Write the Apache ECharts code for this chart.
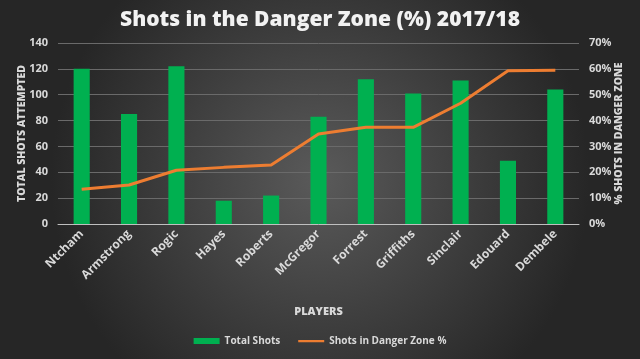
<!DOCTYPE html>
<html><head><meta charset="utf-8">
<script src="https://cdn.jsdelivr.net/npm/echarts@6/dist/echarts.min.js"></script>
<style>html,body{margin:0;padding:0;background:#333;}#c{width:640px;height:359px;}</style>
</head><body><div id="c"></div>
<script>
const players = ['Ntcham','Armstrong','Rogic','Hayes','Roberts','McGregor','Forrest','Griffiths','Sinclair','Edouard','Dembele'];
const totalShots = [120, 85, 122, 18, 22, 83, 112, 101, 111, 49, 104];
const dangerPct = [13.4, 15.1, 20.8, 21.9, 22.8, 34.8, 37.4, 37.4, 46.7, 59.3, 59.5];

const font = '"Open Sans", "DejaVu Sans", sans-serif';
const txt = '#d9d9d9';
const chart = echarts.init(document.getElementById('c'));
chart.setOption({
  backgroundColor: {type:'radial', x:0.5, y:0.5, r:0.75, colorStops:[{offset:0,color:'#5a5a5a'},{offset:1,color:'#262626'}]},
  textStyle:{fontFamily:font},
  title:{text:'Shots in the Danger Zone (%) 2017/18', left:'center', top:5,
    textStyle:{color:'#f2f2f2', fontSize:21, fontWeight:800, fontFamily:font}},
  grid:{left:58, right:61, top:43, bottom:135},
  legend:{bottom:8, left:'center', itemGap:18, itemWidth:26, itemHeight:6,
    textStyle:{color:txt, fontSize:10, fontWeight:'bold', fontFamily:font},
    data:[{name:'Total Shots', icon:'rect'},
          {name:'Shots in Danger Zone %', icon:'path://M0,0L0.01,0L0.01,0.01L0,0.01ZM0,2L26,2L26,4.2L0,4.2ZM25.99,5.99L26,5.99L26,6L25.99,6Z'}]},
  xAxis:{type:'category', data:players, name:'PLAYERS', nameLocation:'middle', nameGap:82, nameMoveOverlap:false,
    nameTextStyle:{color:txt, fontSize:11, fontWeight:900},
    axisLine:{lineStyle:{color:'#bfbfbf', width:1}}, axisTick:{show:false},
    axisLabel:{rotate:45, color:txt, fontSize:12, fontWeight:'bold', margin:8, interval:0}},
  yAxis:[
    {type:'value', min:0, max:140, interval:20, name:'TOTAL SHOTS ATTEMPTED', nameLocation:'middle', nameGap:30, nameRotate:90, nameMoveOverlap:false,
     nameTextStyle:{color:txt, fontSize:10.5, fontWeight:900},
     axisLabel:{color:txt, fontSize:11, fontWeight:'bold', margin:10},
     splitLine:{lineStyle:{color:'#6a6a6a', width:1}}, axisLine:{show:false}, axisTick:{show:false}},
    {type:'value', min:0, max:70, interval:10, name:'% SHOTS IN DANGER ZONE', nameLocation:'middle', nameGap:35, nameRotate:90, nameMoveOverlap:false,
     nameTextStyle:{color:txt, fontSize:10.5, fontWeight:900},
     axisLabel:{color:txt, fontSize:11, fontWeight:'bold', margin:10, formatter:'{value}%'},
     splitLine:{show:false}, axisLine:{show:false}, axisTick:{show:false}}
  ],
  series:[
    {name:'Total Shots', type:'bar', data:totalShots, barWidth:'34%', itemStyle:{color:'#00B050'}},
    {name:'Shots in Danger Zone %', type:'line', yAxisIndex:1, data:dangerPct, symbol:'none',
     lineStyle:{color:'#ED7D31', width:3}, itemStyle:{color:'#ED7D31'}}
  ]
});
</script></body></html>
